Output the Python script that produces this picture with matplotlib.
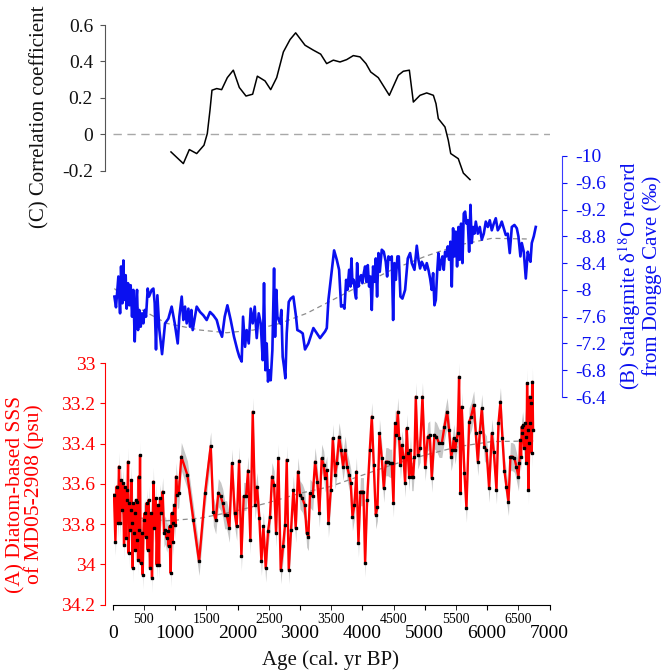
import matplotlib
matplotlib.use('Agg')
import matplotlib.pyplot as plt
import numpy as np

plt.rcParams['font.family'] = 'Liberation Serif'
plt.rcParams['mathtext.fontset'] = 'stix'
plt.rcParams['axes.unicode_minus'] = False

# (C) running correlation
corr_age = [934, 1132, 1228, 1346, 1463, 1516, 1559, 1591, 1667, 1746, 1837, 1933, 2029, 2136, 2243,
            2318, 2441, 2532, 2628, 2735, 2842, 2932, 3082, 3215, 3333, 3429, 3536, 3643, 3750, 3856,
            3963, 4059, 4135, 4256, 4433, 4577, 4657, 4754, 4818, 4925, 5032, 5139, 5181, 5218, 5325,
            5378, 5417, 5538, 5619, 5726]
corr_r = [-0.097, -0.161, -0.084, -0.106, -0.060, 0.004, 0.132, 0.242, 0.251, 0.245, 0.311, 0.352, 0.257,
          0.210, 0.220, 0.319, 0.293, 0.245, 0.311, 0.452, 0.520, 0.557, 0.489, 0.462, 0.440, 0.388, 0.407,
          0.397, 0.410, 0.432, 0.425, 0.388, 0.342, 0.311, 0.214, 0.324, 0.346, 0.352, 0.177, 0.214, 0.227,
          0.214, 0.168, 0.086, 0.040, -0.033, -0.106, -0.134, -0.213, -0.249]

# (B) Dongge Cave d18O
d18o_age = [27, 53, 91, 118, 134, 155, 171, 187, 208, 224, 246, 267, 288, 310, 331, 353, 374, 390, 406, 427,
            449, 470, 491, 513, 534, 561, 582, 604, 625, 652, 673, 694, 716, 748, 791, 839, 892, 945, 994, 1042,
            1068, 1106, 1132, 1159, 1186, 1213, 1239, 1261, 1282, 1309, 1346, 1400, 1453, 1506, 1560, 1613, 1667,
            1709, 1752, 1795, 1838, 1891, 1944, 1998, 2030, 2067, 2089, 2121, 2147, 2180, 2212, 2244, 2276, 2308,
            2340, 2372, 2404, 2425, 2447, 2468, 2489, 2511, 2532, 2559, 2586, 2602, 2623, 2639, 2660, 2682, 2703,
            2724, 2746, 2767, 2789, 2821, 2853, 2895, 2938, 2959, 3002, 3045, 3082, 3136, 3216, 3323,
            3404, 3431, 3457, 3500, 3548, 3591, 3628, 3660, 3687, 3714, 3741, 3762, 3789, 3810, 3826, 3842, 3863,
            3885, 3901, 3917, 3938, 3960, 3981, 4002, 4024, 4045, 4066, 4088, 4109, 4131, 4152, 4173, 4195, 4216,
            4237, 4259, 4280, 4312, 4344, 4376, 4398, 4419, 4446, 4472, 4494, 4515, 4537, 4563, 4585, 4611, 4643,
            4686, 4729, 4766, 4793, 4836, 4873, 4900, 4926, 4953, 4980, 5007, 5033, 5060, 5087, 5113, 5135, 5156,
            5178, 5199, 5220, 5242, 5263, 5284, 5306, 5327, 5348, 5370, 5391, 5413, 5434, 5455, 5477, 5498, 5519,
            5541, 5562, 5583, 5605, 5626, 5648, 5669, 5690, 5712, 5733, 5754, 5776, 5797, 5819, 5851, 5883, 5915,
            5947, 5979, 6011, 6043, 6075, 6107, 6139, 6171, 6203, 6235, 6267, 6299, 6331, 6363, 6396, 6438, 6476,
            6502, 6534, 6556, 6588, 6620, 6652, 6673, 6695, 6716, 6748, 6780]
d18o = [-7.90, -7.74, -8.20, -7.65, -8.35, -7.80, -8.44, -7.85, -8.22, -7.72, -8.10, -7.77, -8.07, -7.60, -8.00,
        -7.23, -7.80, -8.00, -7.40, -7.70, -7.45, -7.65, -7.50, -7.70, -7.60, -8.02, -7.90, -7.95, -8.00, -8.02,
        -7.80, -7.11, -7.92, -7.40, -7.04, -7.50, -7.57, -7.75, -7.50, -7.20, -7.60, -7.90, -7.55, -7.75, -7.50,
        -7.72, -7.45, -7.70, -7.40, -7.55, -7.75, -7.67, -7.62, -7.55, -7.67, -7.62, -7.55, -7.40, -7.30, -7.60,
        -7.77, -7.55, -7.30, -7.10, -7.00, -6.93, -7.60, -7.15, -7.40, -7.20, -7.72, -7.50, -7.75, -7.28, -7.65,
        -7.50, -6.95, -8.10, -6.80, -7.20, -6.63, -6.80, -6.65, -7.10, -8.32, -7.30, -8.00, -7.60, -7.55, -7.50,
        -7.70, -7.00, -6.85, -6.68, -7.35, -7.82, -7.87, -7.90, -7.60, -7.40, -7.38, -7.35, -7.11, -7.20, -7.43,
        -7.28,
        -7.38, -7.43, -7.85, -8.20, -8.59, -8.45, -8.30, -7.75, -7.77, -7.72, -8.15, -8.00, -8.30, -8.05, -8.47,
        -8.10, -8.15, -7.95, -7.87, -8.40, -8.05, -8.17, -8.22, -8.10, -8.25, -8.35, -8.12, -8.37, -8.05, -8.20,
        -7.70, -8.35, -8.12, -8.47, -7.90, -8.55, -8.27, -8.60, -8.57, -8.42, -8.20, -8.50, -8.45, -8.50, -7.55,
        -8.40, -8.15, -8.50, -8.50, -7.90, -7.87, -8.00, -8.47, -8.55, -8.40, -8.30, -8.66, -8.45, -8.32, -8.42,
        -8.37, -8.30, -8.40, -8.30, -8.17, -8.00, -8.25, -7.77, -7.85, -8.25, -8.55, -8.30, -8.42, -8.50, -8.30,
        -8.57, -8.50, -8.65, -8.45, -8.72, -8.05, -8.92, -8.50, -8.87, -8.35, -8.94, -8.45, -8.99, -8.40, -9.14,
        -9.17, -8.99, -9.04, -8.57, -9.27, -8.70, -8.94, -8.84, -9.02, -8.84, -8.94, -8.75, -8.84, -9.02, -8.94,
        -9.04, -8.89, -8.99, -9.07, -8.89, -8.94, -9.02, -8.92, -8.82, -8.84, -8.55, -8.94, -8.97, -8.92, -8.80,
        -8.50, -8.70, -8.57, -8.17, -8.57, -8.47, -8.42, -8.70, -8.80, -8.94]
d18o_trend_age = [27, 331, 865, 1400, 1827, 2254, 2682, 3109, 3483, 3938, 4472, 5006, 5541, 6075, 6689]
d18o_trend = [-8.02, -7.77, -7.50, -7.40, -7.36, -7.40, -7.50, -7.65, -7.83, -8.05, -8.30, -8.50, -8.67,
              -8.77, -8.76]

# (A) diatom-based SSS
sss_age = [21, 43, 64, 85, 101, 118, 134, 150, 166, 182, 192, 208, 224, 235, 246, 256, 267, 278, 288, 299,
           310, 321, 331, 342, 353, 363, 374, 385, 395, 406, 417, 427, 438, 449, 465, 481, 497, 513, 529, 545,
           561, 577, 598, 614, 630, 652, 668, 689, 705, 727, 743, 759, 780, 801, 823, 844, 865, 881, 897, 913,
           930, 946, 962, 972, 988, 1004, 1015, 1036, 1058, 1100, 1197, 1293, 1384, 1480, 1571, 1613, 1651, 1693,
           1731, 1763, 1795, 1827, 1870, 1912, 1955, 1987, 2025, 2062, 2099, 2137, 2169, 2206, 2244, 2281, 2313,
           2350, 2383, 2415, 2452, 2489, 2521, 2553, 2586, 2618, 2655, 2692, 2730, 2762, 2789, 2821, 2858, 2895,
           2933, 2970, 3002, 3040, 3077, 3109, 3136, 3162, 3205, 3243, 3280, 3312, 3349, 3381,
           3404, 3431, 3457, 3495, 3527, 3564, 3591, 3628, 3660, 3692, 3725, 3757, 3789, 3815, 3842, 3874, 3906,
           3938, 3970, 3992, 4018, 4045, 4077, 4120, 4152, 4184, 4216, 4243, 4275, 4312, 4344, 4376, 4408, 4440,
           4472, 4499, 4526, 4547, 4569, 4590, 4611, 4633, 4659, 4686, 4713, 4729, 4750, 4772, 4793, 4814, 4836,
           4857, 4889, 4926, 4964, 5007, 5049, 5081, 5113, 5156, 5188, 5231, 5274, 5316, 5359, 5391, 5423, 5445,
           5466, 5487, 5509, 5530, 5551, 5573, 5594, 5637, 5669, 5712, 5744, 5786, 5819, 5851, 5883, 5915, 5957,
           5990, 6032, 6075, 6107, 6150, 6182, 6214, 6246, 6278, 6310, 6342, 6374, 6406, 6438, 6470, 6502, 6518,
           6529, 6545, 6556, 6566, 6577, 6593, 6609, 6620, 6631, 6641, 6652, 6663, 6673, 6684, 6695, 6705, 6716,
           6727, 6737]
sss = [33.655, 33.887, 33.614, 33.796, 33.514, 33.796, 33.581, 33.730, 33.597, 33.903, 33.614, 33.870, 33.630,
       33.680, 33.490, 33.945, 33.696, 33.829, 33.730, 33.581, 33.796, 34.019, 33.696, 33.845, 33.746, 33.928,
       33.680, 33.878, 33.688, 33.978, 33.564, 33.829, 33.457, 33.994, 33.845, 34.052, 33.779, 33.746, 33.862,
       33.696, 33.928, 33.680, 34.019, 33.746, 34.069, 33.589, 33.821, 33.672, 34.002, 33.705, 34.002, 33.672,
       33.746, 33.639, 33.845, 33.829, 33.870, 33.837, 33.911, 33.812, 34.044, 33.746, 33.887, 33.796, 33.705,
       33.804, 33.564, 33.655, 33.647, 33.465, 33.556, 33.779, 33.986, 33.647, 33.412, 33.738, 33.779, 33.644,
       33.663, 33.696, 33.754, 33.754, 33.821, 33.498, 33.746, 33.812, 33.485, 33.961, 33.663, 33.663, 33.534,
       33.878, 33.242, 33.705, 33.614, 33.771, 33.986, 33.812, 34.019, 33.837, 33.763, 33.564, 33.605, 33.845,
       33.473, 34.027, 33.911, 33.804, 33.481, 34.027, 33.829, 33.630, 33.821, 33.539, 33.655, 33.672, 33.705,
       33.845, 33.862, 33.647, 33.663, 33.490, 33.589, 33.746, 33.473, 33.506,
       33.572, 33.531, 33.796, 33.630, 33.374, 33.556, 33.498, 33.366, 33.432, 33.514, 33.432, 33.514, 33.556,
       33.597, 33.763, 33.705, 33.539, 33.895, 33.639, 33.639, 33.639, 33.994, 33.680, 33.432, 33.266, 33.506,
       33.754, 33.713, 33.349, 33.473, 33.622, 33.490, 33.490, 33.498, 33.498, 33.696, 33.299, 33.357, 33.242,
       33.374, 33.506, 33.407, 33.465, 33.597, 33.324, 33.448, 33.564, 33.432, 33.564, 33.564, 33.465, 33.167,
       33.457, 33.423, 33.167, 33.514, 33.366, 33.357, 33.572, 33.357, 33.366, 33.399, 33.399, 33.316, 33.242,
       33.333, 33.465, 33.432, 33.374, 33.432, 33.382, 33.349, 33.068, 33.647, 33.217, 33.548, 33.721, 33.291,
       33.266, 33.208, 33.349, 33.490, 33.341, 33.225, 33.415, 33.432, 33.622, 33.349, 33.440, 33.630, 33.299,
       33.192, 33.374, 33.536, 33.614, 33.688, 33.465, 33.465, 33.473, 33.514, 33.564, 33.498, 33.382, 33.465,
       33.316, 33.349, 33.308, 33.423, 33.299, 33.366, 33.498, 33.101, 33.333, 33.630, 33.399, 33.167, 33.299,
       33.200, 33.448, 33.093, 33.333]
sss_err = 0.07
sss_trend_age = [20, 438, 865, 1400, 1934, 2468, 3002, 3483, 3938, 4472, 5007, 5541, 6075, 6740]
sss_trend = [33.733, 33.770, 33.784, 33.771, 33.738, 33.696, 33.647, 33.614, 33.564, 33.506, 33.457, 33.415,
             33.390, 33.387]

RED = '#ff0000'
BLUE = '#0a10f0'
W, H = 662, 671
X0, X1 = 112.7, 549.5

fig = plt.figure(figsize=(W / 100, H / 100), dpi=100)


def px_axes(top, bottom):
    ax = fig.add_axes([X0 / W, 1 - bottom / H, (X1 - X0) / W, (bottom - top) / H])
    ax.patch.set_alpha(0)
    for s in ax.spines.values():
        s.set_visible(False)
    ax.set_xlim(0, 7000)
    return ax


# bottom panel (A)
ax_a = px_axes(343, 604.5)
ax_a.set_ylim(34.2, 32.9)
ax_a.fill_between(sss_age, np.array(sss) - sss_err, np.array(sss) + sss_err,
                  color='#c6c6c6', lw=0, zorder=1)
ax_a.plot(sss_trend_age, sss_trend, color='#8c8c8c', lw=0.9, ls=(0, (4, 3)), zorder=2)
ax_a.plot(sss_age, sss, color=RED, lw=1.7, zorder=3)
ax_a.plot(sss_age, sss, ls='none', marker='s', ms=1.9, color='black', zorder=4)
ax_a.spines['left'].set_visible(True)
ax_a.spines['left'].set_position(('outward', 5.5))
ax_a.spines['left'].set_bounds(33, 34.2)
ax_a.spines['left'].set_color(RED)
ax_a.spines['bottom'].set_visible(True)
ax_a.spines['bottom'].set_bounds(0, 7000)
ax_a.spines['bottom'].set_color('black')
ax_a.set_yticks([33, 33.2, 33.4, 33.6, 33.8, 34, 34.2])
ax_a.set_yticklabels(['33', '33.2', '33.4', '33.6', '33.8', '34', '34.2'])
ax_a.tick_params(axis='y', colors=RED, labelsize=14, length=3.6, pad=3.5)
ax_a.set_xticks(range(0, 7001, 1000))
ax_a.set_xticklabels([str(v) for v in range(0, 7001, 1000)])
ax_a.set_xticks(range(500, 7000, 1000), minor=True)
ax_a.set_xticklabels([str(v) for v in range(500, 7000, 1000)], minor=True)
ax_a.tick_params(axis='x', which='major', labelsize=14, length=3.6, pad=11)
ax_a.tick_params(axis='x', which='minor', labelsize=10, length=3.6, pad=2.5)

# middle panel (B)
ax_b = px_axes(156, 397)
ax_b.set_ylim(-6.4, -10)
ax_b.plot(d18o_trend_age, d18o_trend, color='#8c8c8c', lw=0.9, ls=(0, (4, 3)), zorder=2)
ax_b.plot(d18o_age, d18o, color=BLUE, lw=1.9, zorder=3)
ax_b.spines['right'].set_visible(True)
ax_b.spines['right'].set_position(('outward', 9))
ax_b.spines['right'].set_bounds(-10, -6.4)
ax_b.spines['right'].set_color('#3a3aff')
ax_b.yaxis.tick_right()
ax_b.set_yticks([-10, -9.6, -9.2, -8.8, -8.4, -8, -7.6, -7.2, -6.8, -6.4])
ax_b.set_yticklabels(['-10', '-9.6', '-9.2', '-8.8', '-8.4', '-8', '-7.6', '-7.2', '-6.8', '-6.4'])
ax_b.tick_params(axis='y', colors=BLUE, labelsize=14, length=3.6, pad=6)
ax_b.tick_params(axis='x', which='both', bottom=False, labelbottom=False)

# top panel (C)
ax_c = px_axes(15.9, 188.9)
ax_c.set_ylim(-0.3, 0.65)
ax_c.axhline(0, color='#a8a8a8', lw=1.0, ls=(0, (6, 4)), zorder=1)
ax_c.plot(corr_age, corr_r, color='black', lw=1.1, zorder=3)
ax_c.spines['left'].set_visible(True)
ax_c.spines['left'].set_position(('outward', 5.5))
ax_c.spines['left'].set_bounds(-0.2, 0.6)
ax_c.spines['left'].set_color('#555555')
ax_c.set_yticks([-0.2, 0, 0.2, 0.4, 0.6])
ax_c.set_yticklabels(['-0.2', '0', '0.2', '0.4', '0.6'])
ax_c.tick_params(axis='y', colors='#555555', labelcolor='#111111', labelsize=14, length=3.6, pad=5)
ax_c.tick_params(axis='x', which='both', bottom=False, labelbottom=False)

# axis titles
fig.text(40 / W, 1 - 117 / H, '(C) Correlation coefficient', rotation=90,
         ha='center', va='center', fontsize=15, color='#111111')
fig.text(25 / W, 1 - 494 / H, '(A) Diatom-based SSS\nof MD05-2908 (psu)', rotation=90,
         ha='center', va='center', fontsize=15.5, color=RED, linespacing=0.95, multialignment='center')
fig.text(639 / W, 1 - 276 / H, '(B) Stalagmite δ$^{18}$O record\nfrom Dongge Cave (‰)', rotation=90,
         ha='center', va='center', fontsize=15, color=BLUE, linespacing=0.9, multialignment='center')
fig.text(331 / W, 1 - 660 / H, 'Age (cal. yr BP)', ha='center', va='center', fontsize=15, color='#111111')

fig.savefig('out.png', dpi=100)
plt.close(fig)
